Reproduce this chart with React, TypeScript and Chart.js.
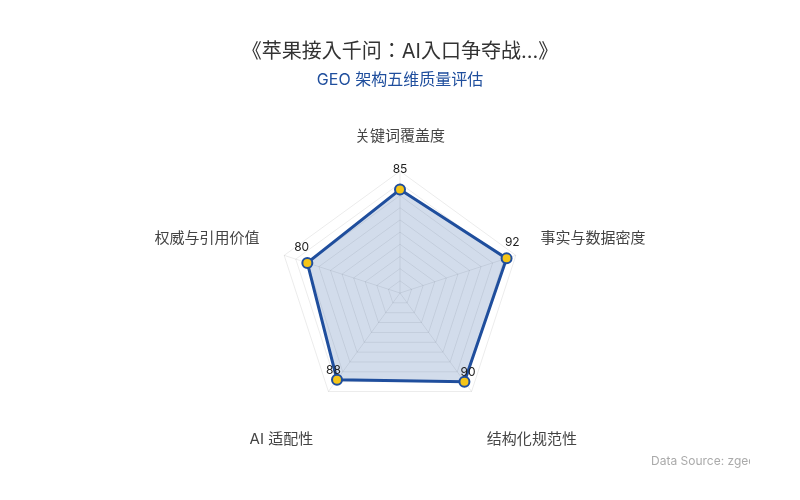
import { useEffect, useRef } from "react";
import { Chart, registerables } from "chart.js";

Chart.register(...registerables);

const TITLE = "《苹果接入千问：AI入口争夺战...》";
const SUBTITLE = "GEO 架构五维质量评估";
const SOURCE = "Data Source: zgeo";

const dimensions = [
  "关键词覆盖度",
  "事实与数据密度",
  "结构化规范性",
  "AI 适配性",
  "权威与引用价值",
];
const scores = [85, 92, 90, 88, 80];

const FONT = "Inter, 'Noto Sans CJK JP', 'Noto Sans', sans-serif";
const BLUE = "#1f4e9d";

// numbers above each vertex, pushed a little outward from the centre
const valueLabels = {
  id: "valueLabels",
  afterDatasetsDraw(chart: any) {
    const { ctx } = chart;
    const scale = chart.scales.r;
    const meta = chart.getDatasetMeta(0);
    ctx.save();
    ctx.font = `12px ${FONT}`;
    ctx.fillStyle = "#222";
    ctx.textAlign = "center";
    ctx.textBaseline = "middle";
    meta.data.forEach((pt: any, i: number) => {
      const dx = pt.x - scale.xCenter;
      const dy = pt.y - scale.yCenter;
      const len = Math.hypot(dx, dy) || 1;
      ctx.fillText(
        String(scores[i]),
        pt.x + (dx / len) * 6,
        pt.y + (dy / len) * 6 - 14
      );
    });
    ctx.restore();
  },
};

const sourceNote = {
  id: "sourceNote",
  afterDraw(chart: any) {
    const { ctx } = chart;
    ctx.save();
    ctx.beginPath();
    ctx.rect(0, 0, 750, chart.height);
    ctx.clip();
    ctx.font = `12px ${FONT}`;
    ctx.fillStyle = "#aaaaaa";
    ctx.textAlign = "left";
    ctx.textBaseline = "middle";
    ctx.fillText(SOURCE, 651, 461);
    ctx.restore();
  },
};

export default function App() {
  const canvasRef = useRef<HTMLCanvasElement>(null);

  useEffect(() => {
    document.body.style.margin = "0";
    if (!canvasRef.current) return;

    const chart = new Chart(canvasRef.current, {
      type: "radar",
      data: {
        labels: dimensions,
        datasets: [
          {
            data: scores,
            borderColor: BLUE,
            borderWidth: 3,
            backgroundColor: "rgba(31, 78, 157, 0.2)",
            fill: true,
            pointRadius: 5,
            pointBackgroundColor: "#f5c518",
            pointBorderColor: BLUE,
            pointBorderWidth: 2,
          },
        ],
      },
      options: {
        responsive: true,
        maintainAspectRatio: false,
        animation: false,
        layout: { padding: { top: 30, bottom: 47, left: 20, right: 20 } },
        plugins: {
          legend: { display: false },
          tooltip: { enabled: false },
          title: {
            display: true,
            text: TITLE,
            color: "#333",
            font: { family: FONT, size: 20, weight: "normal" },
            padding: { top: 10, bottom: 4 },
          },
          subtitle: {
            display: true,
            text: SUBTITLE,
            color: BLUE,
            font: { family: FONT, size: 16 },
            padding: { top: 3, bottom: 31 },
          },
        },
        scales: {
          r: {
            min: 0,
            max: 100,
            ticks: { display: false, stepSize: 10 },
            grid: { color: "rgba(0,0,0,0.08)" },
            angleLines: { color: "rgba(0,0,0,0.08)" },
            pointLabels: {
              color: "#444",
              padding: 26,
              font: { family: FONT, size: 15 },
              callback: (label: string, index: number) =>
                index === 2 || index === 3 ? ["", label] : label,
            },
          },
        },
      },
      plugins: [valueLabels, sourceNote],
    });

    return () => chart.destroy();
  }, []);

  return (
    <div style={{ width: 800, height: 500, background: "#fff" }}>
      <canvas ref={canvasRef} />
    </div>
  );
}
